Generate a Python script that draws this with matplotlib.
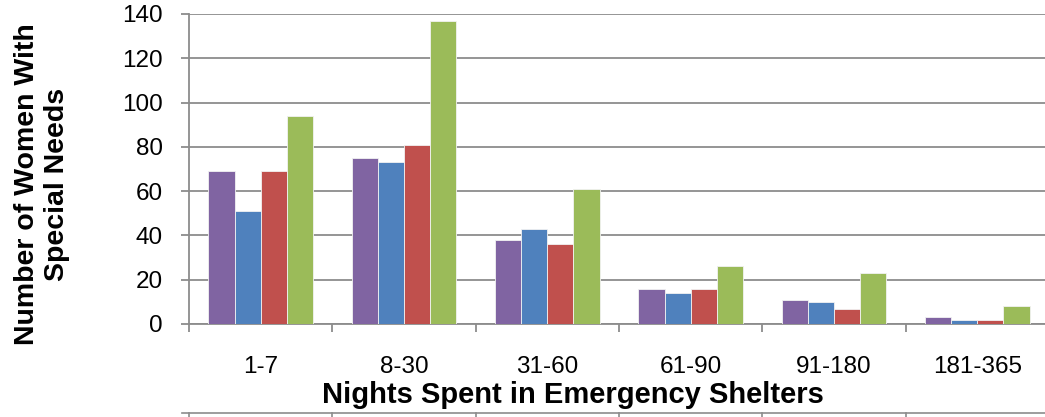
import matplotlib.pyplot as plt
import numpy as np
from matplotlib.lines import Line2D

plt.rcParams['font.family'] = ['Liberation Sans', 'DejaVu Sans']

# =========================
# DATA
# =========================
categories = ['1-7', '8-30', '31-60', '61-90', '91-180', '181-365']
series_purple = [69, 75, 38, 16, 11, 3]
series_blue = [51, 73, 43, 14, 10, 2]
series_red = [69, 81, 36, 16, 7, 2]
series_green = [94, 137, 61, 26, 23, 8]

colors = ['#8064A2', '#4F81BD', '#C0504D', '#9BBB59']
all_series = [series_purple, series_blue, series_red, series_green]

# =========================
# FIGURE
# =========================
W, H = 1045, 417
fig = plt.figure(figsize=(W / 100, H / 100), dpi=100)
ax = fig.add_axes([189 / W, (H - 324) / H, 860 / W, 310 / H])

x = np.arange(len(categories))
bw = 0.182
for i, (vals, c) in enumerate(zip(all_series, colors)):
    ax.bar(x + (i - 1.5) * bw, vals, width=bw, color=c, edgecolor='#f2f2f2',
           linewidth=0.6, zorder=3)

ax.set_xlim(-0.5, len(categories) - 0.5)
ax.set_ylim(0, 140)
ax.set_yticks(range(0, 141, 20))
ax.yaxis.grid(True, color='#8c8c8c', linewidth=1.3, zorder=0)
ax.tick_params(axis='y', labelsize=17.5, length=6, color='#8c8c8c', width=1.3, pad=13)

# category boundaries as major ticks, labels on minor ticks at centres
ax.set_xticks(np.arange(-0.5, len(categories), 1.0))
ax.set_xticklabels([])
ax.set_xticks(x, minor=True)
ax.set_xticklabels(categories, minor=True)
ax.tick_params(axis='x', which='major', length=6, color='#8c8c8c', width=1.3)
ax.tick_params(axis='x', which='minor', length=0, labelsize=17.5, pad=23)

for s in ['top', 'right']:
    ax.spines[s].set_visible(False)
for s in ['left', 'bottom']:
    ax.spines[s].set_color('#8c8c8c')
    ax.spines[s].set_linewidth(1.3)

fig.text(42 / W, 1 - 184 / H, 'Number of Women With\nSpecial Needs', rotation=90,
         ha='center', va='center', fontsize=20.5, fontweight='bold', linespacing=1.15)
fig.text(573 / W, 1 - 395 / H, 'Nights Spent in Emergency Shelters', ha='center',
         va='center', fontsize=21, fontweight='bold')

# top border of data table (cut off at bottom edge)
ty = 1 - 413 / H
fig.add_artist(Line2D([182 / W, 1.0], [ty, ty], color='#8c8c8c', linewidth=1.2))
for b in np.arange(-0.5, len(categories), 1.0):
    bx = (189 + (b + 0.5) * 860 / 6) / W
    fig.add_artist(Line2D([bx, bx], [ty, 0], color='#8c8c8c', linewidth=1.2))

fig.savefig('out.png', dpi=100)
